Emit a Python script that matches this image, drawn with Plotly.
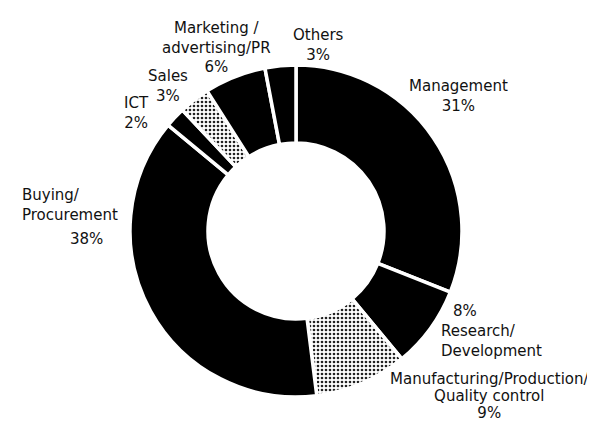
import plotly.graph_objects as go

# ---- data ----
categories = ["Management", "Research/Development", "Manufacturing/Production/Quality control",
              "Buying/Procurement", "ICT", "Sales", "Marketing/advertising/PR", "Others"]
values = [31, 8, 9, 38, 2, 3, 6, 3]

W, H = 595, 423

slice_colors = ["#000000", "#000000", "#d4d4d4", "#000000", "#000000", "#9a9a9a", "#000000", "#000000"]
pattern_shapes = ["", "", ".", "", "", ".", "", ""]

fig = go.Figure()
fig.add_trace(go.Pie(
    labels=categories,
    values=values,
    sort=False,
    direction="clockwise",
    rotation=0,
    hole=0.53,
    textinfo="none",
    hoverinfo="label+percent",
    showlegend=False,
    marker=dict(
        colors=slice_colors,
        line=dict(color="white", width=3.5),
        pattern=dict(shape=pattern_shapes, fgcolor="#222222", size=4, solidity=0.35),
    ),
    domain=dict(x=[122 / W, 454 / W], y=[1 - 389 / H, 1 - 57 / H]),
))

pct = {c: f"{v}%" for c, v in zip(categories, values)}
FONT = "DejaVu Sans"

# label blocks: (lines, x_px, y_center_px, xanchor, align)
label_blocks = [
    (["Management", pct["Management"]], 450, 87.5, "center", "center"),
    (["Others", pct["Others"]], 310, 37, "center", "center"),
    (["Marketing /", "advertising/PR", pct["Marketing/advertising/PR"]], 208, 39, "center", "center"),
    (["Sales", pct["Sales"]], 160, 77.5, "center", "center"),
    (["ICT", pct["ICT"]], 128, 105, "center", "center"),
    (["Buying/", "Procurement"], 12, 197.5, "left", "left"),
    ([pct["Buying/Procurement"]], 78, 231, "center", "center"),
    ([pct["Research/Development"]], 443, 303, "left", "left"),
    (["Research/", "Development"], 431, 333, "left", "left"),
]

for lines, x, y, xa, al in label_blocks:
    fig.add_annotation(
        text="<br>".join(lines), x=x / W, y=1 - y / H, xref="paper", yref="paper",
        xanchor=xa, yanchor="middle", align=al, showarrow=False,
        font=dict(family=FONT, size=15, color="#111111"),
    )

# bottom block: tighter line spacing (base size sets spacing, span sets glyph size)
mfg_lines = ["Manufacturing/Production/", "Quality control",
             pct["Manufacturing/Production/Quality control"]]
fig.add_annotation(
    text="<br>".join(f"<span style='font-size:15px'>{t}</span>" for t in mfg_lines),
    x=481 / W, y=1 - 388 / H, xref="paper", yref="paper",
    xanchor="center", yanchor="middle", align="center", showarrow=False,
    font=dict(family=FONT, size=13, color="#111111"),
)

fig.update_layout(
    width=W, height=H,
    margin=dict(l=0, r=0, t=0, b=0),
    paper_bgcolor="white",
    plot_bgcolor="white",
)

fig.write_html("out.html")
